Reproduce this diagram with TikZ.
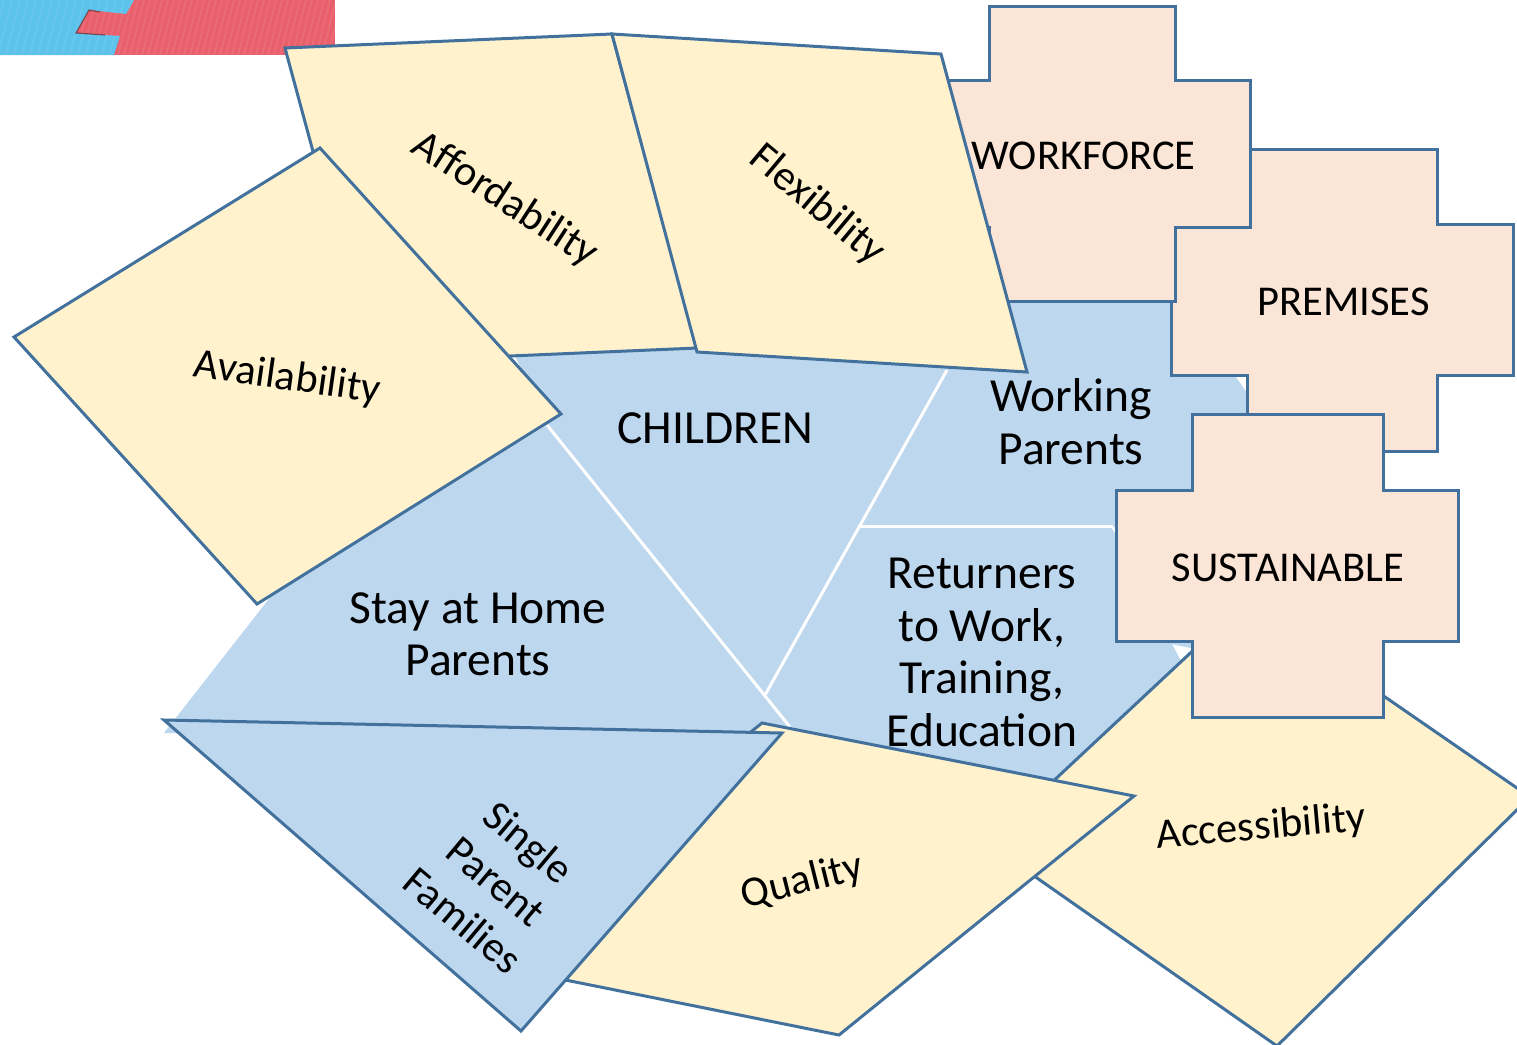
\documentclass[tikz,border=0pt]{standalone}
\usepackage{fontspec}
\setmainfont{Carlito}
\definecolor{edgeblue}{HTML}{41719C}
\definecolor{tileyellow}{HTML}{FFF2CC}
\definecolor{tileblue}{HTML}{BDD7EE}
\definecolor{tilepeach}{HTML}{FBE5D6}
\definecolor{photoblue}{HTML}{5CC3EC}
\definecolor{photored}{HTML}{E9606C}
\tikzset{
  yellowtile/.style={fill=tileyellow,draw=edgeblue,line width=3pt,line join=miter},
  bluetile/.style={fill=tileblue,draw=edgeblue,line width=3pt,line join=miter},
  peachtile/.style={fill=tilepeach,draw=edgeblue,line width=3pt,line join=miter},
  bluearea/.style={fill=tileblue,draw=none},
  divider/.style={draw=white,line width=3pt},
  biglabel/.style={font=\fontsize{47.5}{52.5}\selectfont,align=center,text=black,inner sep=0pt},
  midlabel/.style={font=\fontsize{42.5}{46}\selectfont,align=center,text=black,inner sep=0pt},
}
\begin{document}
\begin{tikzpicture}[x=1pt,y=-1pt]
\useasboundingbox (0,0) rectangle (1517,1044);
\clip (0,0) rectangle (1517,1044);
% photo strip
\fill[photored] (0,0) rectangle (335,55);
\begin{scope}
  \clip (0,0) rectangle (335,55);
  \foreach \i in {0,6,...,360}{\draw[white,opacity=.07,line width=2pt] (\i,0) -- (\i-14,55);}
\end{scope}
\fill[photoblue] (0,0) -- (134,0) -- (126,14) -- (89,10) -- (76,33) -- (120,36) -- (114,55) -- (0,55) -- cycle;
\begin{scope}
  \clip (0,0) -- (134,0) -- (126,14) -- (89,10) -- (76,33) -- (120,36) -- (114,55) -- (0,55) -- cycle;
  \foreach \i in {-20,-12,...,180}{\draw[white,opacity=.07,line width=2pt] (\i,0) -- (\i-14,55);}
\end{scope}
\draw[black!55!photored,line width=1.2pt,opacity=.7] (100,12) -- (89,10) -- (76,33) -- (105,35);
% blue areas
\fill[bluearea] (164,733) -- (272,595) -- (547,425) -- (790,727) -- (780,734) -- cycle;
\fill[bluearea] (510,345) -- (950,340) -- (947,370) -- (765,695) -- (547,425) -- cycle;
\fill[bluearea] (947,370) -- (960,290) -- (1200,290) -- (1236,377) -- (1262,415) -- (1262,527) -- (860,527) -- cycle;
\fill[bluearea] (860,527) -- (1111,527) -- (1116,535) -- (1172,644) -- (1181,661) -- (1192,652) -- (1055,781) -- (790,727) -- (765,695) -- cycle;
\fill[bluearea] (1116,527) -- (1200,527) -- (1200,650) -- (1171,644) -- cycle;
\draw[divider] (547,425) -- (790,727);
\draw[divider] (765,695) -- (947,370);
\draw[divider] (860,526.5) -- (1113,526.5);
% yellow tiles
\path[yellowtile] (987,843) -- (1246,601) -- (1530,797) -- (1277,1046) -- cycle;
\path[yellowtile] (285,48) -- (612,34) -- (697,348) -- (370,362) -- cycle;
\path[yellowtile] (320,148) -- (561,414) -- (257,604) -- (14,337) -- cycle;
\path[yellowtile] (762,723) -- (1134,796) -- (839,1035) -- (466,960) -- cycle;
\path[bluetile] (164,720) -- (782,733) -- (521,1031) -- cycle;
% peach crosses
\path[peachtile] (1247.5,149.5) -- (1437.5,149.5) -- (1437.5,224.5) -- (1513.5,224.5) -- (1513.5,375.5) -- (1437.5,375.5) -- (1437.5,451.5) -- (1247.5,451.5) -- (1247.5,375.5) -- (1171.5,375.5) -- (1171.5,224.5) -- (1247.5,224.5) -- cycle;
\path[peachtile] (989.5,6.5) -- (1175.5,6.5) -- (1175.5,80.5) -- (1250.5,80.5) -- (1250.5,227.5) -- (1175.5,227.5) -- (1175.5,301.5) -- (989.5,301.5) -- (989.5,227.5) -- (914.5,227.5) -- (914.5,80.5) -- (989.5,80.5) -- cycle;
\path[peachtile] (1192.5,414.5) -- (1383.5,414.5) -- (1383.5,490.5) -- (1458.5,490.5) -- (1458.5,641.5) -- (1383.5,641.5) -- (1383.5,717.5) -- (1192.5,717.5) -- (1192.5,641.5) -- (1116.5,641.5) -- (1116.5,490.5) -- (1192.5,490.5) -- cycle;
\path[yellowtile] (612,34) -- (941,54) -- (1027,372) -- (697,352) -- cycle;
% labels
\node[biglabel] (children) at (715.5,428) {CHILDREN};
\node[biglabel] (working) at (1071,421.5) {Working\\Parents};
\node[biglabel] (returners) at (982,652.5) {Returners\\to Work,\\Training,\\Education};
\node[biglabel] (stay) at (478,634.5) {Stay at Home\\Parents};
\node[midlabel,rotate=-40,font=\fontsize{42.5}{51}\selectfont] (single) at (496,881) {Single\\Parent\\Families};
\node[midlabel,rotate=-8] (availability) at (287,378.5) {Availability};
\node[midlabel,rotate=-33] (affordability) at (505,200) {Affordability};
\node[midlabel,rotate=-40] (flexibility) at (817,205) {Flexibility};
\node[midlabel,rotate=14] (quality) at (802,882) {Quality};
\node[midlabel,rotate=5] (accessibility) at (1261,828) {Accessibility};
\node[midlabel] (workforce) at (1083.5,156) {WORKFORCE};
\node[midlabel] (premises) at (1343.5,302) {PREMISES};
\node[midlabel] (sustainable) at (1288,568) {SUSTAINABLE};
\end{tikzpicture}
\end{document}
